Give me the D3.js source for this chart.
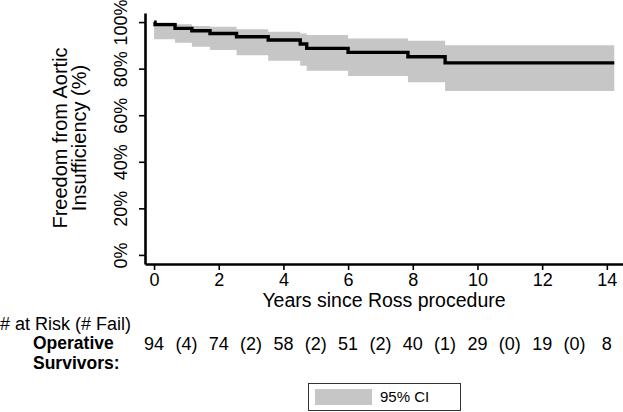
<!DOCTYPE html>
<html>
<head>
<meta charset="utf-8">
<script src="https://cdn.jsdelivr.net/npm/d3@7"></script>
<style>
  html, body { margin: 0; padding: 0; background: #fff; }
  svg { display: block; }
  text { font-family: "Liberation Sans", Arial, Helvetica, sans-serif; fill: #000; }
</style>
</head>
<body>
<svg id="chart" width="623" height="412"></svg>
<script>
// ---- data ----
const stepTimes = [0, 0.03, 0.65, 1.17, 1.73, 2.55, 3.53, 4.52, 4.72, 6.0, 7.85, 9.0, 14.23];
const survival  = [100, 98.9, 97.3, 96.3, 95.1, 93.7, 92.3, 90.6, 88.7, 87.0, 85.1, 82.5, 82.5];
const ciUpper   = [100, 99.8, 99.1, 98.3, 98.0, 96.9, 95.8, 95.1, 94.4, 93.0, 92.0, 90.0, 90.0];
const ciLower   = [92.6, 92.6, 91.1, 89.4, 88.0, 85.8, 83.4, 81.2, 79.1, 76.8, 74.2, 70.4, 70.4];

const xTicks = [0, 2, 4, 6, 8, 10, 12, 14];
const yTicks = [0, 20, 40, 60, 80, 100];

const atRiskYears = [0, 2, 4, 6, 8, 10, 12, 14];
const atRisk      = [94, 74, 58, 51, 40, 29, 19, 8];
const failYears   = [1, 3, 5, 7, 9, 11, 13];
const fails       = [4, 2, 2, 2, 1, 0, 0];

const xTitle = "Years since Ross procedure";
const yTitle = ["Freedom from Aortic", "Insufficiency (%)"];
const riskHeader = "# at Risk (# Fail)";
const groupLabel = ["Operative", "Survivors:"];
const legendLabel = "95% CI";

// ---- drawing ----
const svg = d3.select("#chart");
const FONT = '"Liberation Sans", Arial, Helvetica, sans-serif';
const ciColor = "#c6c6c6";

const x = d3.scaleLinear().domain([-0.28, 14.5]).range([145, 623]);
const y = d3.scaleLinear().domain([-3.9, 103.9]).range([264, 13]);

const pts = stepTimes.map((t, i) => ({ t, s: survival[i], u: ciUpper[i], l: ciLower[i] }));

// CI band
svg.append("path")
  .datum(pts)
  .attr("fill", ciColor)
  .attr("d", d3.area().curve(d3.curveStepAfter)
    .x(d => x(d.t)).y0(d => y(d.l)).y1(d => y(d.u)));

// KM line
svg.append("path")
  .datum(pts)
  .attr("fill", "none")
  .attr("stroke", "#000")
  .attr("stroke-width", 3.4)
  .attr("d", d3.line().curve(d3.curveStepAfter).x(d => x(d.t)).y(d => y(d.s)));

// Y axis
const yAxis = svg.append("g")
  .attr("transform", `translate(${x.range()[0]},0)`)
  .call(d3.axisLeft(y).tickValues(yTicks).tickFormat(d => d + "%").tickSize(6).tickSizeOuter(0));
yAxis.select(".domain").attr("stroke-width", 2.6);
yAxis.selectAll(".tick line").attr("stroke-width", 1.6);
yAxis.selectAll(".tick text")
  .attr("font-family", FONT)
  .attr("font-size", 18)
  .attr("fill", "#000")
  .attr("text-anchor", "middle")
  .attr("transform", "rotate(-90)")
  .attr("x", 0)
  .attr("dy", 0)
  .attr("y", -18);

// X axis
const xAxis = svg.append("g")
  .attr("transform", `translate(0,${y.range()[0]})`)
  .call(d3.axisBottom(x).tickValues(xTicks).tickSize(6).tickSizeOuter(0));
xAxis.select(".domain").attr("stroke-width", 2.6);
xAxis.selectAll(".tick line").attr("stroke-width", 1.6);
xAxis.selectAll(".tick text")
  .attr("font-family", FONT)
  .attr("font-size", 18)
  .attr("fill", "#000")
  .attr("dy", 0)
  .attr("y", 22);

// Axis titles
svg.append("text")
  .attr("x", (x.range()[0] + x.range()[1]) / 2)
  .attr("y", 307)
  .attr("text-anchor", "middle")
  .attr("font-size", 19.5)
  .text(xTitle);

const yt = svg.append("text")
  .attr("transform", "translate(0,138) rotate(-90)")
  .attr("text-anchor", "middle")
  .attr("font-size", 20);
yt.selectAll("tspan").data(yTitle).join("tspan")
  .attr("x", 0)
  .attr("y", (d, i) => 67 + i * 19)
  .text(d => d);

// Number at risk table
svg.append("text").attr("x", 0).attr("y", 330).attr("font-size", 18).text(riskHeader);
svg.selectAll("text.grp").data(groupLabel).join("text")
  .attr("class", "grp")
  .attr("x", 33)
  .attr("y", (d, i) => 349 + i * 20)
  .attr("font-size", 17.5)
  .attr("font-weight", "bold")
  .text(d => d);

svg.selectAll("text.risk").data(atRisk).join("text")
  .attr("class", "risk")
  .attr("x", (d, i) => x(atRiskYears[i]))
  .attr("y", 350)
  .attr("text-anchor", "middle")
  .attr("font-size", 18)
  .text(d => d);

svg.selectAll("text.fail").data(fails).join("text")
  .attr("class", "fail")
  .attr("x", (d, i) => x(failYears[i]))
  .attr("y", 350)
  .attr("text-anchor", "middle")
  .attr("font-size", 18)
  .text(d => "(" + d + ")");

// Legend
const lg = svg.append("g");
lg.append("rect").attr("x", 308.5).attr("y", 383.5).attr("width", 152).attr("height", 27)
  .attr("fill", "#fff").attr("stroke", "#333").attr("stroke-width", 1);
lg.append("rect").attr("x", 315).attr("y", 389).attr("width", 57).attr("height", 16)
  .attr("fill", ciColor);
lg.append("text").attr("x", 380).attr("y", 402).attr("font-size", 15).text(legendLabel);
</script>
</body>
</html>
